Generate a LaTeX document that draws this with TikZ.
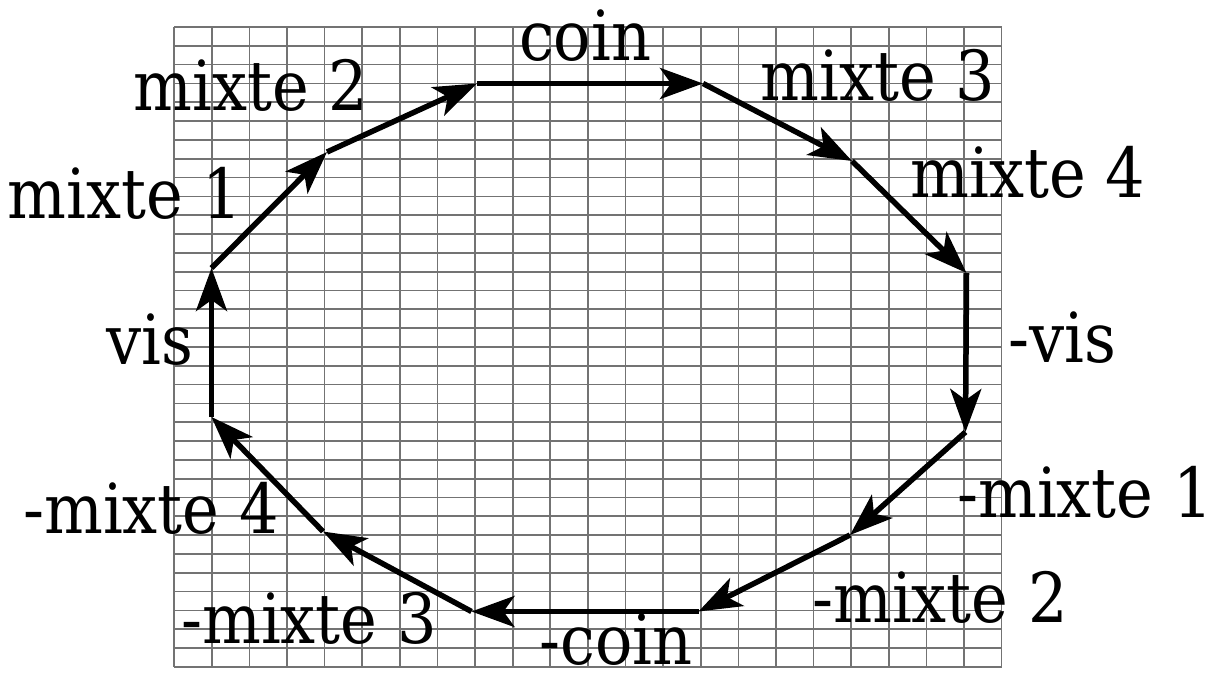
\documentclass[tikz,border=0pt]{standalone}
\usepackage{fontspec}
\IfFontExistsTF{DejaVu Serif Condensed}{\setmainfont{DejaVu Serif Condensed}}{\setmainfont[FakeStretch=0.9]{DejaVu Serif}}
\usetikzlibrary{arrows.meta}
\tikzset{
  gridline/.style={draw=black!55, line width=1.7pt},
  edge/.style={line width=5.5pt, -{Stealth[length=43pt, width=31pt, inset=11pt]}},
  lbl/.style={anchor=base, inner sep=0pt, font=\fontsize{69}{80}\selectfont},
  pt/.style={inner sep=0pt, minimum size=0pt}
}
\begin{document}
\begin{tikzpicture}[x=1pt, y=-1pt]
\useasboundingbox (0,0) rectangle (1221,673);
% grid
\foreach \i in {0,...,22} {
  \draw[gridline] ({174.2+37.61*\i},27) -- ({174.2+37.61*\i},667);
}
\foreach \j in {0,...,34} {
  \draw[gridline] (174.2,{27+18.82*\j}) -- (1001.6,{27+18.82*\j});
}
% vertices
\coordinate (v0) at (211.5,417);
\coordinate (v1) at (211.5,268);
\coordinate (v2) at (327,152);
\coordinate (v3) at (477,83.5);
\coordinate (v4) at (703,83.5);
\coordinate (v5) at (852,161);
\coordinate (v6) at (966.5,273);
\coordinate (v7) at (965.5,432);
\coordinate (v8) at (850,535);
\coordinate (v9) at (698.5,611.5);
\coordinate (v10) at (471.5,611.5);
\coordinate (v11) at (323,531.5);
% edges
\draw[edge] (v0) -- (v1);
\draw[edge] (v1) -- (v2);
\draw[edge] (v2) -- (v3);
\draw[edge] (v3) -- (v4);
\draw[edge] (v4) -- (v5);
\draw[edge] (v5) -- (v6);
\draw[edge] (v6) -- (v7);
\draw[edge] (v7) -- (v8);
\draw[edge] (v8) -- (v9);
\draw[edge] (v9) -- (v10);
\draw[edge] (v10) -- (v11);
\draw[edge] (v11) -- (v0);
% labels
\node[lbl] (lcoin) at (585,60) {coin};
\node[lbl] (lm2) at (251,110) {mixte 2};
\node[lbl] (lm3) at (878,100) {mixte 3};
\node[lbl] (lm4) at (1028,197) {mixte 4};
\node[lbl] (lm1) at (125,218) {mixte 1};
\node[lbl] (lvis) at (150,364) {vis};
\node[lbl] (lnvis) at (1062,362) {-vis};
\node[lbl] (lnm1) at (1085,517) {-mixte 1};
\node[lbl] (lnm2) at (940,622) {-mixte 2};
\node[lbl] (lncoin) at (616,664) {-coin};
\node[lbl] (lnm3) at (309,643) {-mixte 3};
\node[lbl] (lnm4) at (151,533) {-mixte 4};
\end{tikzpicture}
\end{document}
